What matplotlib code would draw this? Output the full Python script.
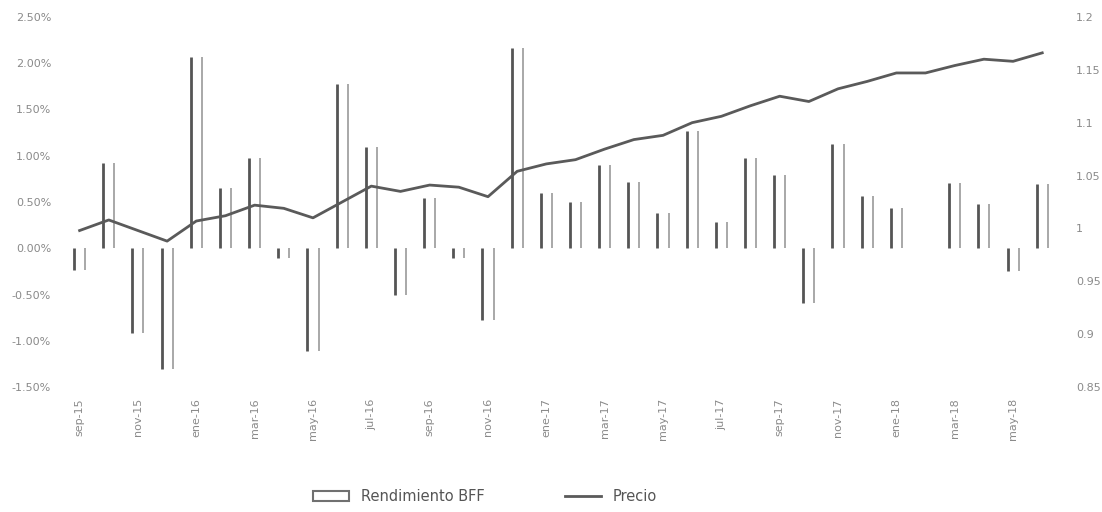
import matplotlib.pyplot as plt
import numpy as np
from matplotlib.patches import Rectangle
from matplotlib.lines import Line2D

# monthly data, sep-15 .. jun-18 (rendimiento in %)
months = ["sep-15", "oct-15", "nov-15", "dic-15", "ene-16", "feb-16", "mar-16", "abr-16",
          "may-16", "jun-16", "jul-16", "ago-16", "sep-16", "oct-16", "nov-16", "dic-16",
          "ene-17", "feb-17", "mar-17", "abr-17", "may-17", "jun-17", "jul-17", "ago-17",
          "sep-17", "oct-17", "nov-17", "dic-17", "ene-18", "feb-18", "mar-18", "abr-18",
          "may-18", "jun-18"]
rendimiento = [-0.24, 0.92, -0.92, -1.30, 2.07, 0.65, 0.97, -0.10, -1.11, 1.78,
               1.09, -0.51, 0.54, -0.10, -0.77, 2.16, 0.60, 0.50, 0.90, 0.72,
               0.38, 1.27, 0.28, 0.98, 0.79, -0.59, 1.13, 0.56, 0.44, 0.0,
               0.70, 0.48, -0.25, 0.69]
precio = [0.998, 1.008, 0.998, 0.988, 1.007, 1.012, 1.022, 1.019, 1.010, 1.025,
          1.040, 1.035, 1.041, 1.039, 1.030, 1.054, 1.061, 1.065, 1.075, 1.084,
          1.088, 1.100, 1.106, 1.116, 1.125, 1.120, 1.132, 1.139, 1.147, 1.147,
          1.154, 1.160, 1.158, 1.166]
pct_ticks = [-1.5, -1.0, -0.5, 0.0, 0.5, 1.0, 1.5, 2.0, 2.5]
precio_ticks = [0.85, 0.9, 0.95, 1.0, 1.05, 1.1, 1.15, 1.2]
precio_labels = ["0.85", "0.9", "0.95", "1", "1.05", "1.1", "1.15", "1.2"]

x = np.arange(len(months))
half = 0.19

fig = plt.figure(figsize=(11.02, 5.12), dpi=100)
ax = fig.add_axes([0.059, 0.244, 0.900, 0.723])
ax2 = ax.twinx()

# bars shown only by their two side edges
ax.vlines(x - half, 0, rendimiento, color="#555555", linewidth=2.0)
ax.vlines(x + half, 0, rendimiento, color="#a8a8a8", linewidth=1.4)

ax2.plot(x, precio, color="#5a5a5a", linewidth=2.0)

ax.set_xlim(-0.5, len(months) - 0.5)
ax.set_ylim(-1.5, 2.5)
ax.set_yticks(pct_ticks)
ax.set_yticklabels([f"{v:.2f}%" for v in pct_ticks])
ax2.set_ylim(0.85, 1.2)
ax2.set_yticks(precio_ticks)
ax2.set_yticklabels(precio_labels)

ax.set_xticks(x[::2])
ax.set_xticklabels(months[::2], rotation=90)

for a in (ax, ax2):
    for s in a.spines.values():
        s.set_visible(False)
    a.tick_params(length=0, labelsize=8, labelcolor="#8a8a8a")
ax.tick_params(axis="y", pad=10)
ax.tick_params(axis="x", pad=8)
ax2.tick_params(axis="y", pad=14)

handles = [Rectangle((0, 0), 1, 1, facecolor="white", edgecolor="#707070", linewidth=1.5),
           Line2D([], [], color="#5a5a5a", linewidth=2.0)]
fig.legend(handles, ["Rendimiento BFF", "Precio"], loc="center", bbox_to_anchor=(0.44, 0.03),
           ncol=2, frameon=False, fontsize=10.5, labelcolor="#555555",
           columnspacing=5.5, handlelength=2.5)

fig.savefig("out.png", dpi=100)
